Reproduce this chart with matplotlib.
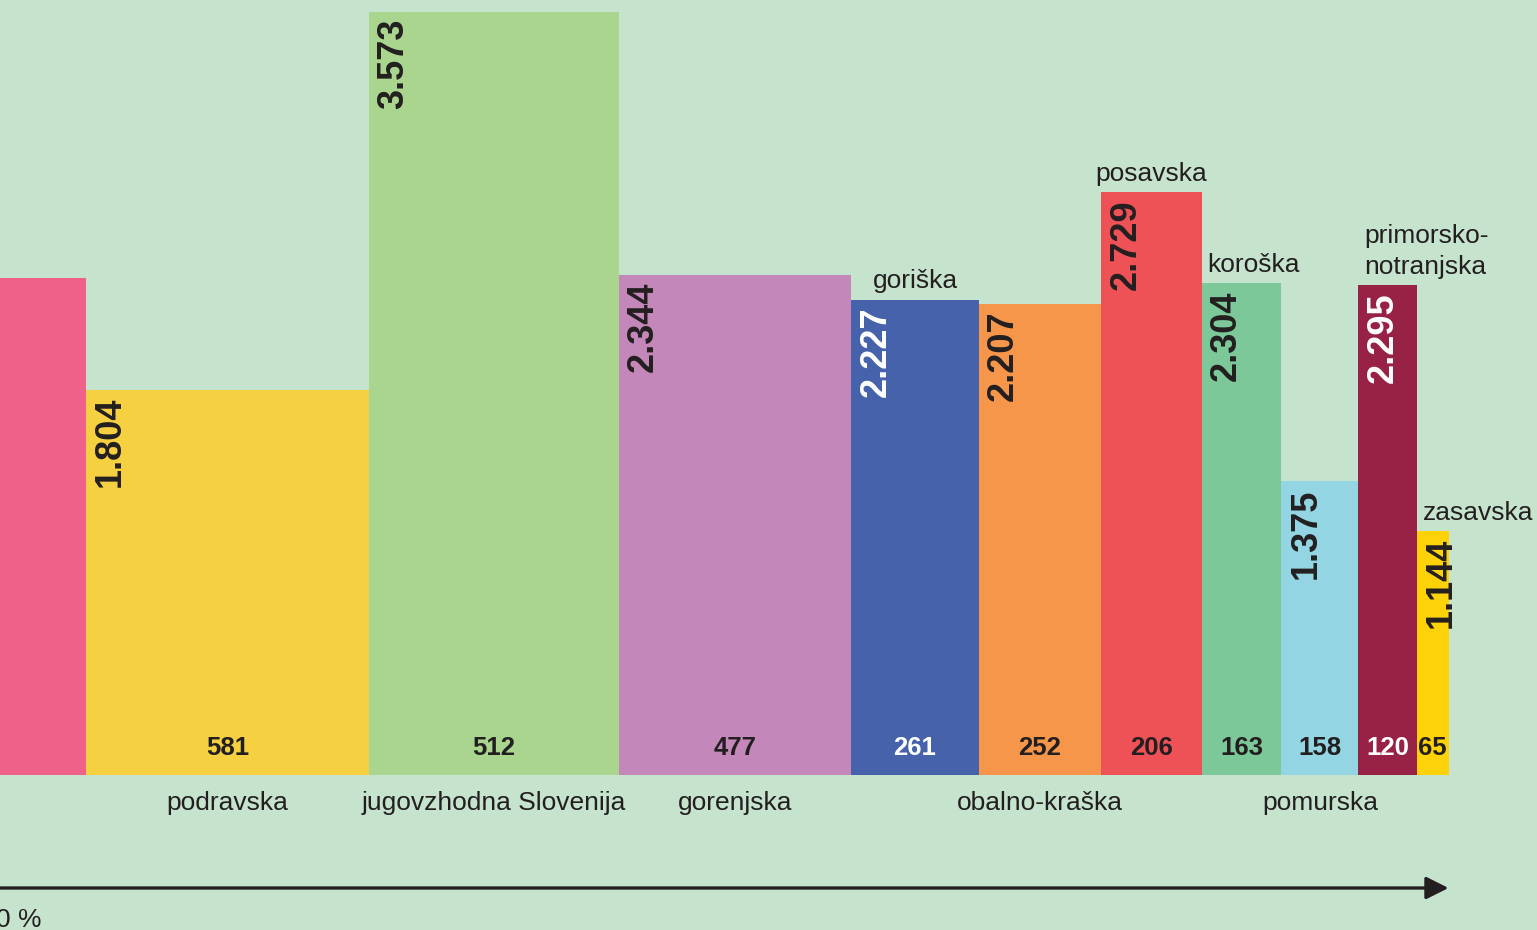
import matplotlib
matplotlib.use("Agg")
import matplotlib.pyplot as plt
from matplotlib.patches import Rectangle

# Regions: bar width = count, bar height = value (thousands, Slovenian decimal style)
regions = ["savinjska", "podravska", "jugovzhodna Slovenija", "gorenjska", "goriška",
           "obalno-kraška", "posavska", "koroška", "pomurska",
           "primorsko-\nnotranjska", "zasavska"]
counts = [640, 581, 512, 477, 261, 252, 206, 163, 158, 120, 65]
values = [2.328, 1.804, 3.573, 2.344, 2.227, 2.207, 2.729, 2.304, 1.375, 2.295, 1.144]

colors = ["#EF6189", "#F5D142", "#A9D58F", "#C487B9", "#4562AA", "#F6964B",
          "#EF5256", "#7CC899", "#93D5E2", "#982246", "#FDD208"]
white_text = {"goriška", "primorsko-\nnotranjska"}
names_above = {"goriška", "posavska", "koroška", "primorsko-\nnotranjska", "zasavska"}
names_left = {"koroška", "primorsko-\nnotranjska", "zasavska"}

bg = "#C6E4CD"
dark = "#231F20"
font = "Liberation Sans"

fig = plt.figure(figsize=(15.37, 9.30), dpi=100)
fig.patch.set_facecolor(bg)
ax = fig.add_axes([0, 0, 1, 1])
ax.set_facecolor(bg)
ax.axis("off")

# scale: ~0.4875 px per unit in x, ~213.5 px per unit in y
px_x = 0.4875
px_y = 213.5
x_start = -counts[0]
x_min = -86 / px_x
ax.set_xlim(x_min, (1537 - 86) / px_x)
ax.set_ylim(-155 / px_y, 775 / px_y)

def fmt(v):
    return f"{v:.3f}"

left = x_start
for name, n, v, c in zip(regions, counts, values, colors):
    ax.add_patch(Rectangle((left, 0), n, v, facecolor=c, edgecolor="none"))
    if left < x_min:
        # bar runs past the left edge, its labels are out of view
        left += n
        continue
    tc = "white" if name in white_text else dark
    center = left + n / 2

    # value, rotated, in the top-left corner of the bar
    ax.annotate(fmt(v), xy=(left, v), xytext=(5, -5), textcoords="offset points",
                rotation=90, ha="left", va="top", fontsize=26, fontweight="bold",
                color=tc, family=font)
    # count near the base of the bar
    ax.text(center, 20 / px_y, str(n), ha="center", va="baseline", fontsize=18.5,
            fontweight="bold", color=tc, family=font)

    # region name, above or below the bar
    if name in names_above:
        if name in names_left:
            ax.annotate(name, xy=(left, v), xytext=(4, 8), textcoords="offset points",
                        ha="left", va="baseline", fontsize=19, color=dark,
                        family=font, linespacing=1.38)
        else:
            ax.annotate(name, xy=(center, v), xytext=(0, 8), textcoords="offset points",
                        ha="center", va="baseline", fontsize=19, color=dark, family=font)
    else:
        ax.text(center, -35 / px_y, name, ha="center", va="baseline", fontsize=19,
                color=dark, family=font)
    left += n

# horizontal axis arrow
total = left
y_arrow = -113 / px_y
ax.annotate("", xy=(total, y_arrow), xytext=(x_start - 300, y_arrow),
            arrowprops=dict(arrowstyle="-|>", lw=2.4, color=dark, mutation_scale=34,
                            shrinkA=0, shrinkB=0), annotation_clip=False)
ax.text(x_min - 4 / px_x, -152 / px_y, "0 %", ha="left", va="baseline", fontsize=19,
        color=dark, family=font)

fig.savefig("out.png", dpi=100, facecolor=bg)
